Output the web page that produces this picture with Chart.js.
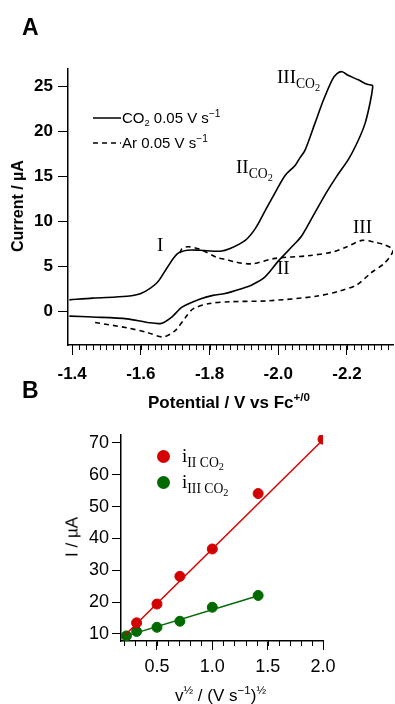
<!DOCTYPE html>
<html>
<head>
<meta charset="utf-8">
<script src="https://cdn.jsdelivr.net/npm/chart.js@4.4.1/dist/chart.umd.min.js"></script>
<style>
	body { margin: 0; background: #fff; width: 395px; height: 704px; overflow: hidden; position: relative; font-family: "Liberation Sans", Arial, sans-serif; }
	canvas { position: absolute; left: 0; }
	.t { position: absolute; line-height: 1; white-space: nowrap; color: #000; }
	.serif { font-family: "Liberation Serif", "Times New Roman", serif; }
	.sb { position: relative; font-size: 0.62em; top: 0.35em; }
	.sb2 { position: relative; font-size: 0.72em; top: 0.35em; }
	.sb2 i { font-style: normal; font-size: 0.75em; position: relative; top: 0.3em; }
	.sp { position: relative; font-size: 0.68em; top: -0.6em; }
	.rot { transform: translate(-50%, -50%) rotate(-90deg); }
	.dot { position: absolute; width: 13px; height: 13px; border-radius: 50%; }
</style>
</head>
<body>
<canvas id="cvA" width="395" height="385" style="top:0"></canvas>
<canvas id="cvB" width="395" height="304" style="top:400px"></canvas>

<!-- panel letters -->
<div class="t" style="left:22px;top:16px;font-size:23px;font-weight:bold">A</div>
<div class="t" style="left:22px;top:379px;font-size:23px;font-weight:bold">B</div>

<!-- panel A legend -->
<svg style="position:absolute;left:0;top:0" width="130" height="160">
	<line x1="93" y1="118" x2="121" y2="118" stroke="#000" stroke-width="1.5"/>
	<line x1="93" y1="143" x2="121" y2="143" stroke="#000" stroke-width="1.5" stroke-dasharray="5,4"/>
</svg>
<div class="t" style="left:122px;top:110px;font-size:15px">CO<span class="sb">2</span> 0.05 V s<span class="sp">&minus;1</span></div>
<div class="t" style="left:122px;top:135px;font-size:15px">Ar 0.05 V s<span class="sp">&minus;1</span></div>

<!-- panel A wave labels -->
<div class="t serif" style="left:157px;top:235px;font-size:19px">I</div>
<div class="t serif" style="left:236px;top:157px;font-size:19px">II<span class="sb2">CO<i>2</i></span></div>
<div class="t serif" style="left:277px;top:67px;font-size:19px">III<span class="sb2">CO<i>2</i></span></div>
<div class="t serif" style="left:277px;top:258px;font-size:19px">II</div>
<div class="t serif" style="left:353px;top:217px;font-size:19px">III</div>

<!-- panel A axis titles -->
<div class="t rot" style="left:18px;top:206px;font-size:16px;font-weight:bold">Current / µA</div>
<div class="t" style="left:148px;top:394px;font-size:17px;font-weight:bold">Potential / V vs Fc<span class="sp">+/0</span></div>

<!-- panel B legend -->
<div class="dot" style="left:157px;top:450px;background:#d40000"></div>
<div class="dot" style="left:157px;top:476px;background:#006a00"></div>
<div class="t serif" style="left:182px;top:446px;font-size:19px">i<span class="sb2">II CO<i>2</i></span></div>
<div class="t serif" style="left:182px;top:472px;font-size:19px">i<span class="sb2">III CO<i>2</i></span></div>

<!-- panel B axis titles -->
<div class="t rot" style="left:72px;top:537px;font-size:17px">I / µA</div>
<div class="t" style="left:175px;top:687px;font-size:17px">v<span class="sp">½</span> / (V s<span class="sp">&minus;1</span>)<span class="sp">½</span></div>

<script>
// Panel A: cyclic voltammograms (potential in V vs Fc+/0, current in µA)
const co2Potential = [-1.392, -1.46, -1.56, -1.60, -1.647, -1.677, -1.706, -1.735, -1.773, -1.831, -1.860, -1.904, -1.933, -1.962, -1.991, -2.020, -2.049, -2.064, -2.078, -2.107, -2.131, -2.157, -2.171, -2.186, -2.203, -2.233, -2.259, -2.273,
	-2.275, -2.267, -2.253, -2.233, -2.206, -2.17, -2.14, -2.11, -2.07, -2.05, -2.00, -1.96, -1.92, -1.898, -1.845, -1.81, -1.773, -1.72, -1.69, -1.66, -1.62, -1.56, -1.46, -1.392];
const co2Current = [1.3, 1.5, 1.7, 2.0, 3.2, 4.9, 6.4, 6.8, 6.8, 6.7, 7.0, 7.9, 9.2, 11.2, 13.2, 15.1, 16.2, 17.1, 17.9, 20.9, 23.4, 25.7, 26.4, 26.6, 26.2, 25.7, 25.2, 25.1,
	24.9, 23.1, 20.9, 19.0, 17.0, 15.0, 13.2, 11.2, 8.5, 7.6, 5.6, 3.8, 2.9, 2.6, 2.0, 1.8, 1.4, 0.5, -0.6, -1.3, -1.2, -0.8, -0.6, -0.5];

const arPotential = [-1.467, -1.56, -1.618, -1.665, -1.70, -1.729, -1.752, -1.80, -1.86, -1.97, -2.11, -2.18, -2.23, -2.27, -2.31, -2.334,
	-2.31, -2.28, -2.244, -2.195, -2.157, -2.087, -1.99, -1.924, -1.875, -1.845, -1.822, -1.773, -1.738, -1.72, -1.714];
const arCurrent = [-1.2, -1.8, -2.3, -2.8, -2.1, -0.7, 0.3, 0.9, 1.1, 1.2, 1.7, 2.3, 3.0, 4.3, 5.4, 6.8,
	7.4, 7.7, 7.9, 7.1, 6.6, 6.2, 5.9, 5.3, 5.5, 5.8, 6.0, 6.9, 7.2, 7.0, 6.5];

// Panel B: peak current vs square root of scan rate
const sqrtRateII = [0.316, 0.5, 0.707, 1.0, 1.414, 2.0];
const peakII = [13.5, 19.4, 28.1, 36.7, 54.1, 71.2];
const sqrtRateIII = [0.224, 0.316, 0.5, 0.707, 1.0, 1.414];
const peakIII = [9.4, 10.8, 12.1, 14.0, 18.4, 22.1];
const fitIIx = [0.21, 2.0];
const fitIIy = [9.6, 71.0];
const fitIIIx = [0.224, 1.414];
const fitIIIy = [9.4, 22.0];

const RED = '#d40000';
const GREEN = '#006a00';

function toPoints(xs, ys) {
	return xs.map((x, i) => ({ x: x, y: ys[i] }));
}

// short minor tick marks under a bottom axis, placed through the scale itself
const minorTicks = {
	id: 'minorTicks',
	afterDraw(chart, args, opts) {
		const ctx = chart.ctx;
		(opts.axes || []).forEach(m => {
			const s = chart.scales[m.id];
			const first = Math.ceil(Math.min(s.min, s.max) / m.step - 1e-6);
			const last = Math.floor(Math.max(s.min, s.max) / m.step + 1e-6);
			ctx.save();
			ctx.strokeStyle = '#000';
			ctx.lineWidth = 1;
			ctx.beginPath();
			for (let i = first; i <= last; i++) {
				const px = Math.round(s.getPixelForValue(i * m.step)) + 0.5;
				ctx.moveTo(px, s.top);
				ctx.lineTo(px, s.top + m.len);
			}
			ctx.stroke();
			ctx.restore();
		});
	}
};

Chart.defaults.font.family = '"Liberation Sans", Arial, sans-serif';
Chart.defaults.color = '#000';

new Chart(document.getElementById('cvA'), {
	type: 'scatter',
	data: {
		datasets: [
			{
				data: toPoints(co2Potential, co2Current),
				showLine: true,
				borderColor: '#000',
				borderWidth: 1.6,
				pointRadius: 0,
				tension: 0.3
			},
			{
				data: toPoints(arPotential, arCurrent),
				showLine: true,
				borderColor: '#000',
				borderWidth: 1.6,
				borderDash: [5, 4],
				pointRadius: 0,
				tension: 0.3
			}
		]
	},
	options: {
		responsive: false,
		animation: false,
		devicePixelRatio: 1,
		layout: { padding: { top: 69, right: 2, left: 0, bottom: 0 } },
		plugins: {
			legend: { display: false },
			tooltip: { enabled: false },
			minorTicks: { axes: [{ id: 'x', step: 0.02, len: 5 }] }
		},
		scales: {
			x: {
				type: 'linear',
				reverse: true,
				min: -2.334,
				max: -1.388,
				border: { color: '#000', width: 1.5 },
				grid: { drawOnChartArea: false, tickLength: 10, tickColor: '#000' },
				ticks: {
					stepSize: 0.2,
					includeBounds: false,
					padding: 9,
					font: { size: 17, weight: 'bold' },
					callback: (v) => v.toFixed(1)
				},
				afterFit: (s) => { s.height = 40; }
			},
			y: {
				min: -3.7,
				max: 26.9,
				border: { color: '#000', width: 1.5 },
				grid: { drawOnChartArea: false, tickLength: 10, tickColor: '#000' },
				ticks: {
					stepSize: 5,
					includeBounds: false,
					padding: 5,
					font: { size: 17, weight: 'bold' }
				},
				afterFit: (s) => { s.width = 68; }
			}
		}
	},
	plugins: [minorTicks]
});

new Chart(document.getElementById('cvB'), {
	type: 'scatter',
	data: {
		datasets: [
			{ data: toPoints(fitIIx, fitIIy), showLine: true, borderColor: RED, borderWidth: 1.5, pointRadius: 0 },
			{ data: toPoints(fitIIIx, fitIIIy), showLine: true, borderColor: GREEN, borderWidth: 1.5, pointRadius: 0 },
			{ data: toPoints(sqrtRateII, peakII), backgroundColor: RED, borderColor: RED, pointRadius: 5 },
			{ data: toPoints(sqrtRateIII, peakIII), backgroundColor: GREEN, borderColor: GREEN, pointRadius: 5 }
		]
	},
	options: {
		responsive: false,
		animation: false,
		devicePixelRatio: 1,
		layout: { padding: { top: 35, right: 72, left: 0, bottom: 0 } },
		plugins: {
			legend: { display: false },
			tooltip: { enabled: false },
			minorTicks: { axes: [{ id: 'x', step: 0.1, len: 5 }] }
		},
		scales: {
			x: {
				type: 'linear',
				min: 0.175,
				max: 2.0,
				border: { color: '#000', width: 1.5 },
				grid: { drawOnChartArea: false, tickLength: 9, tickColor: '#000' },
				ticks: {
					stepSize: 0.5,
					includeBounds: false,
					padding: 6,
					font: { size: 18 },
					callback: (v) => v.toFixed(1)
				},
				afterFit: (s) => { s.height = 63; }
			},
			y: {
				min: 7.8,
				max: 72.5,
				border: { color: '#000', width: 1.5 },
				grid: { drawOnChartArea: false, tickLength: 9, tickColor: '#000' },
				ticks: {
					stepSize: 10,
					includeBounds: false,
					padding: 3,
					font: { size: 18 }
				},
				afterFit: (s) => { s.width = 121; }
			}
		}
	},
	plugins: [minorTicks]
});
</script>
</body>
</html>
